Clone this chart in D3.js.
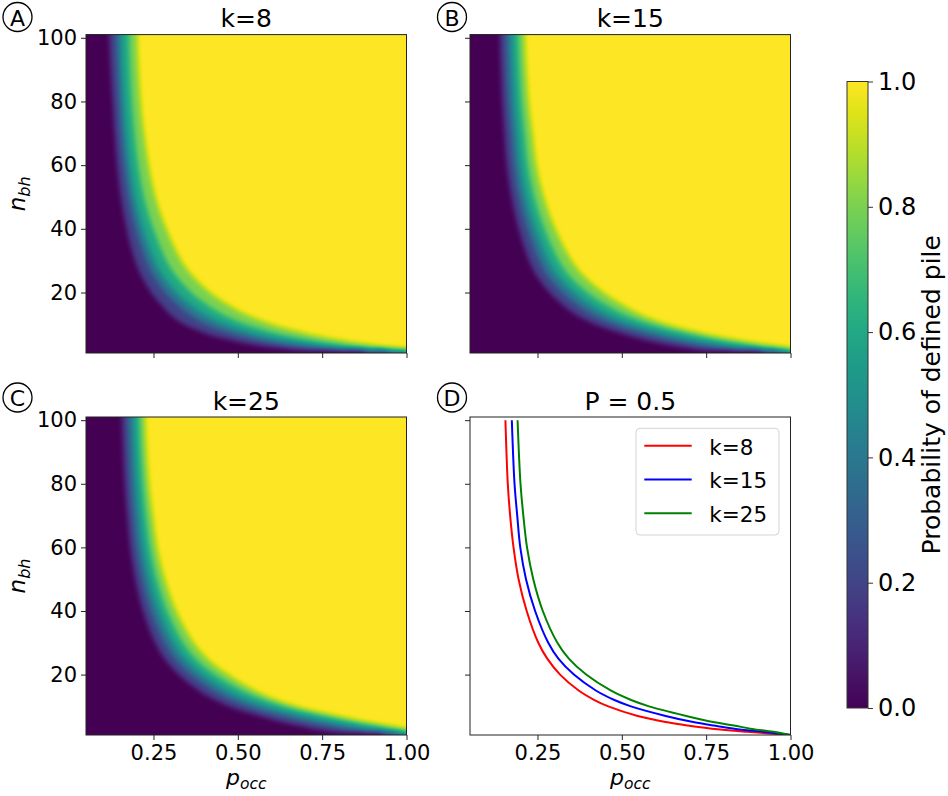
<!DOCTYPE html>
<html>
<head>
<meta charset="utf-8">
<script src="https://cdn.jsdelivr.net/npm/d3@7"></script>
<style>
  body { margin: 0; background: #fff; }
  text { font-family: "DejaVu Sans", sans-serif; fill: #000; }
</style>
</head>
<body>
<svg id="chart" width="948" height="796"></svg>
<script>
const nBh = [1, 2, 3, 4, 5, 7, 10, 12, 15, 20, 25, 30, 40, 50, 60, 70, 80, 100];
const probLevels = [0.1, 0.3, 0.5, 0.7, 0.9];

// p_occ where the probability reaches each level, k=8
const k8P10 = [0.88, 0.70, 0.60, 0.535, 0.49, 0.415, 0.345, 0.315, 0.285, 0.245, 0.217, 0.197, 0.172, 0.155, 0.144, 0.137, 0.131, 0.121];
const k8P30 = [0.95, 0.79, 0.69, 0.62, 0.57, 0.49, 0.41, 0.375, 0.335, 0.287, 0.253, 0.23, 0.199, 0.178, 0.164, 0.155, 0.149, 0.141];
const k8P50 = [1.00, 0.872, 0.767, 0.695, 0.636, 0.547, 0.46, 0.419, 0.372, 0.317, 0.279, 0.2525, 0.218, 0.194, 0.179, 0.169, 0.162, 0.155];
const k8P70 = [1.05, 0.96, 0.85, 0.775, 0.715, 0.618, 0.522, 0.477, 0.424, 0.361, 0.318, 0.288, 0.249, 0.221, 0.204, 0.193, 0.185, 0.177];
const k8P90 = [1.10, 1.06, 0.95, 0.87, 0.81, 0.71, 0.602, 0.551, 0.49, 0.418, 0.368, 0.333, 0.288, 0.256, 0.236, 0.222, 0.212, 0.202];

// k=15
const k15P10 = [0.92, 0.75, 0.68, 0.625, 0.58, 0.51, 0.425, 0.385, 0.34, 0.288, 0.251, 0.227, 0.196, 0.175, 0.161, 0.154, 0.148, 0.141];
const k15P30 = [0.965, 0.84, 0.765, 0.706, 0.655, 0.575, 0.48, 0.436, 0.385, 0.326, 0.284, 0.257, 0.222, 0.197, 0.182, 0.174, 0.166, 0.159];
const k15P50 = [1.00, 0.917, 0.8335, 0.772, 0.715, 0.63, 0.527, 0.478, 0.423, 0.358, 0.312, 0.282, 0.243, 0.216, 0.199, 0.19, 0.182, 0.174];
const k15P70 = [1.04, 0.995, 0.915, 0.852, 0.79, 0.697, 0.584, 0.531, 0.47, 0.397, 0.346, 0.313, 0.27, 0.24, 0.221, 0.211, 0.202, 0.193];
const k15P90 = [1.08, 1.06, 0.98, 0.91, 0.85, 0.75, 0.635, 0.582, 0.522, 0.446, 0.39, 0.352, 0.303, 0.269, 0.247, 0.235, 0.224, 0.213];

// k=25
const k25P10 = [0.93, 0.80, 0.73, 0.685, 0.64, 0.57, 0.48, 0.437, 0.387, 0.327, 0.285, 0.257, 0.221, 0.198, 0.183, 0.174, 0.167, 0.159];
const k25P30 = [0.97, 0.88, 0.815, 0.77, 0.715, 0.637, 0.535, 0.486, 0.43, 0.363, 0.316, 0.285, 0.245, 0.219, 0.202, 0.192, 0.184, 0.176];
const k25P50 = [1.00, 0.949, 0.8805, 0.8323, 0.775, 0.6906, 0.5808, 0.5276, 0.4669, 0.3944, 0.343, 0.309, 0.2658, 0.2376, 0.219, 0.2081, 0.1997, 0.191];
const k25P70 = [1.04, 1.02, 0.955, 0.905, 0.846, 0.755, 0.636, 0.578, 0.511, 0.431, 0.374, 0.337, 0.29, 0.259, 0.239, 0.227, 0.218, 0.208];
const k25P90 = [1.08, 1.07, 1.00, 0.95, 0.89, 0.80, 0.676, 0.617, 0.551, 0.472, 0.411, 0.37, 0.318, 0.284, 0.261, 0.248, 0.237, 0.226];

const curveLabels = ["k=8", "k=15", "k=25"];
const curveColors = ["red", "blue", "green"];

const xTicks = [0.25, 0.5, 0.75, 1.0];
const yTicks = [20, 40, 60, 80, 100];
const cbTicks = [0, 0.2, 0.4, 0.6, 0.8, 1.0];

// layout
const colX = [[86, 406.5], [470, 790.5]];
const rowY = [[353, 34.6], [735, 417]];
const tagX = [17.5, 452], tagY = [17, 397.5];
const titleY = [27, 409.5];

const svg = d3.select("#chart");
const defs = svg.append("defs");
const smooth = d3.curveCatmullRom.alpha(0.5);

// blur the banded grey field, then map grey -> viridis
const vir = defs.append("filter").attr("id", "viridisMap")
  .attr("color-interpolation-filters", "sRGB");
vir.append("feGaussianBlur").attr("stdDeviation", 2.6);
const ct = vir.append("feComponentTransfer");
const samples = d3.range(65).map(i => d3.rgb(d3.interpolateViridis(i / 64)));
ct.append("feFuncR").attr("type", "table").attr("tableValues", samples.map(c => (c.r / 255).toFixed(4)).join(" "));
ct.append("feFuncG").attr("type", "table").attr("tableValues", samples.map(c => (c.g / 255).toFixed(4)).join(" "));
ct.append("feFuncB").attr("type", "table").attr("tableValues", samples.map(c => (c.b / 255).toFixed(4)).join(" "));

function scales(col, row) {
  const x = d3.scaleLinear().domain([0.05, 1.0]).range(colX[col]);
  const y = d3.scaleLinear().domain([1, 101]).range(rowY[row]);
  return {x, y};
}

function clipFor(id, x, y) {
  const [xa, xb] = x.range(), [yb, ya] = y.range();
  defs.append("clipPath").attr("id", id).append("rect")
    .attr("x", xa).attr("y", ya).attr("width", xb - xa).attr("height", yb - ya);
  return `url(#${id})`;
}

function drawHeat(tag, x, y, contours) {
  const [xa, xb] = x.range(), [yb, ya] = y.range();
  const pad = 40;
  const field = svg.append("g").attr("clip-path", clipFor("clip" + tag, x, y))
    .append("g").attr("filter", "url(#viridisMap)");
  field.append("rect").attr("x", xa - pad).attr("y", ya - pad)
    .attr("width", xb - xa + 2 * pad).attr("height", yb - ya + 2 * pad).attr("fill", "#000");
  const area = d3.area().curve(smooth)
    .y(d => d[1]).x0(d => d[0]).x1(xb + pad);
  contours.forEach((ps, i) => {
    const pts = nBh.map((n, j) => [x(ps[j]), y(n)]).reverse();
    // hold the edge rows past the frame so the blur doesn't fade at the border
    pts.unshift([pts[0][0], ya - pad]);
    pts.push([pts[pts.length - 1][0], yb + pad]);
    const v = Math.round(255 * Math.min(1, probLevels[i] + 0.1));
    field.append("path").attr("d", area(pts)).attr("fill", d3.rgb(v, v, v));
  });
}

function drawFrame(x, y, showX, showY) {
  const [xa, xb] = x.range(), [yb, ya] = y.range();
  const ax = svg.append("g").attr("transform", `translate(0,${yb})`)
    .call(d3.axisBottom(x).tickValues(xTicks).tickSize(5).tickPadding(5)
      .tickFormat(showX ? d3.format(".2f") : ""));
  const ay = svg.append("g").attr("transform", `translate(${xa},0)`)
    .call(d3.axisLeft(y).tickValues(yTicks).tickSize(5).tickPadding(4)
      .tickFormat(showY ? d3.format("d") : ""));
  [ax, ay].forEach(a => {
    a.select(".domain").remove();
    a.attr("font-size", 21).attr("font-family", "DejaVu Sans");
    a.selectAll("line").attr("stroke", "#222");
  });
  svg.append("rect").attr("x", xa).attr("y", ya).attr("width", xb - xa).attr("height", yb - ya)
    .attr("fill", "none").attr("stroke", "#222").attr("stroke-width", 1);
  if (showX) {
    const t = svg.append("text").attr("x", (xa + xb) / 2).attr("y", yb + 50)
      .attr("text-anchor", "middle").attr("font-style", "italic");
    t.append("tspan").attr("font-size", 22).text("p");
    t.append("tspan").attr("font-size", 15.5).attr("dy", 4).text("occ");
  }
  if (showY) {
    const t = svg.append("text")
      .attr("transform", `translate(25,${(ya + yb) / 2}) rotate(-90)`)
      .attr("text-anchor", "middle").attr("font-style", "italic");
    t.append("tspan").attr("font-size", 23).text("n");
    t.append("tspan").attr("font-size", 16).attr("dy", 5).text("bh");
  }
}

function drawTag(col, row, letter, title, x) {
  svg.append("circle").attr("cx", tagX[col]).attr("cy", tagY[row]).attr("r", 14.5)
    .attr("fill", "none").attr("stroke", "#000").attr("stroke-width", 1.3);
  svg.append("text").attr("x", tagX[col]).attr("y", tagY[row] + 8.5)
    .attr("text-anchor", "middle").attr("font-size", 22).text(letter);
  const [xa, xb] = x.range();
  svg.append("text").attr("x", (xa + xb) / 2).attr("y", titleY[row])
    .attr("text-anchor", "middle").attr("font-size", 25).text(title);
}

const panels = [
  {tag: "A", title: "k=8", col: 0, row: 0, contours: [k8P10, k8P30, k8P50, k8P70, k8P90], showX: false, showY: true},
  {tag: "B", title: "k=15", col: 1, row: 0, contours: [k15P10, k15P30, k15P50, k15P70, k15P90], showX: false, showY: false},
  {tag: "C", title: "k=25", col: 0, row: 1, contours: [k25P10, k25P30, k25P50, k25P70, k25P90], showX: true, showY: true}
];

panels.forEach(p => {
  const {x, y} = scales(p.col, p.row);
  drawHeat(p.tag, x, y, p.contours);
  drawFrame(x, y, p.showX, p.showY);
  drawTag(p.col, p.row, p.tag, p.title, x);
});

// panel D: P = 0.5 contours
{
  const {x, y} = scales(1, 1);
  const mids = [k8P50, k15P50, k25P50];
  const g = svg.append("g").attr("clip-path", clipFor("clipD", x, y));
  const line = d3.line().curve(smooth).x(d => x(d[0])).y(d => y(d[1]));
  mids.forEach((ps, i) => {
    const pts = nBh.map((n, j) => [ps[j], n]).reverse();
    g.append("path").attr("d", line(pts)).attr("fill", "none")
      .attr("stroke", curveColors[i]).attr("stroke-width", 2);
  });
  drawFrame(x, y, true, false);
  drawTag(1, 1, "D", "P = 0.5", x);

  const lg = svg.append("g").attr("transform", "translate(636,428.3)");
  lg.append("rect").attr("width", 143).attr("height", 106.7).attr("rx", 4)
    .attr("fill", "#fff").attr("fill-opacity", 0.8).attr("stroke", "#d4d4d4");
  curveLabels.forEach((lab, i) => {
    const ly = 17.4 + i * 33.8;
    lg.append("line").attr("x1", 8.3).attr("x2", 55.7).attr("y1", ly).attr("y2", ly)
      .attr("stroke", curveColors[i]).attr("stroke-width", 2);
    lg.append("text").attr("x", 73.3).attr("y", ly + 9).attr("font-size", 21.5).text(lab);
  });
}

// colour bar
{
  const cbX = 847, cbW = 21;
  const cy = d3.scaleLinear().domain([0, 1]).range([708, 81.5]);
  const grad = defs.append("linearGradient").attr("id", "cbGrad")
    .attr("x1", 0).attr("y1", 1).attr("x2", 0).attr("y2", 0);
  d3.range(0, 1.0001, 0.05).forEach(t => {
    grad.append("stop").attr("offset", t).attr("stop-color", d3.interpolateViridis(t));
  });
  svg.append("rect").attr("x", cbX).attr("y", cy(1)).attr("width", cbW).attr("height", cy(0) - cy(1))
    .attr("fill", "url(#cbGrad)").attr("stroke", "#333").attr("stroke-width", 1);
  const ac = svg.append("g").attr("transform", `translate(${cbX + cbW},0)`)
    .call(d3.axisRight(cy).tickValues(cbTicks).tickSize(5).tickPadding(5).tickFormat(d3.format(".1f")));
  ac.select(".domain").remove();
  ac.attr("font-size", 24).attr("font-family", "DejaVu Sans");
  ac.selectAll("line").attr("stroke", "#333");
  svg.append("text").attr("transform", `translate(940,${(cy(0) + cy(1)) / 2}) rotate(-90)`)
    .attr("text-anchor", "middle").attr("font-size", 25).text("Probability of defined pile");
}
</script>
</body>
</html>
